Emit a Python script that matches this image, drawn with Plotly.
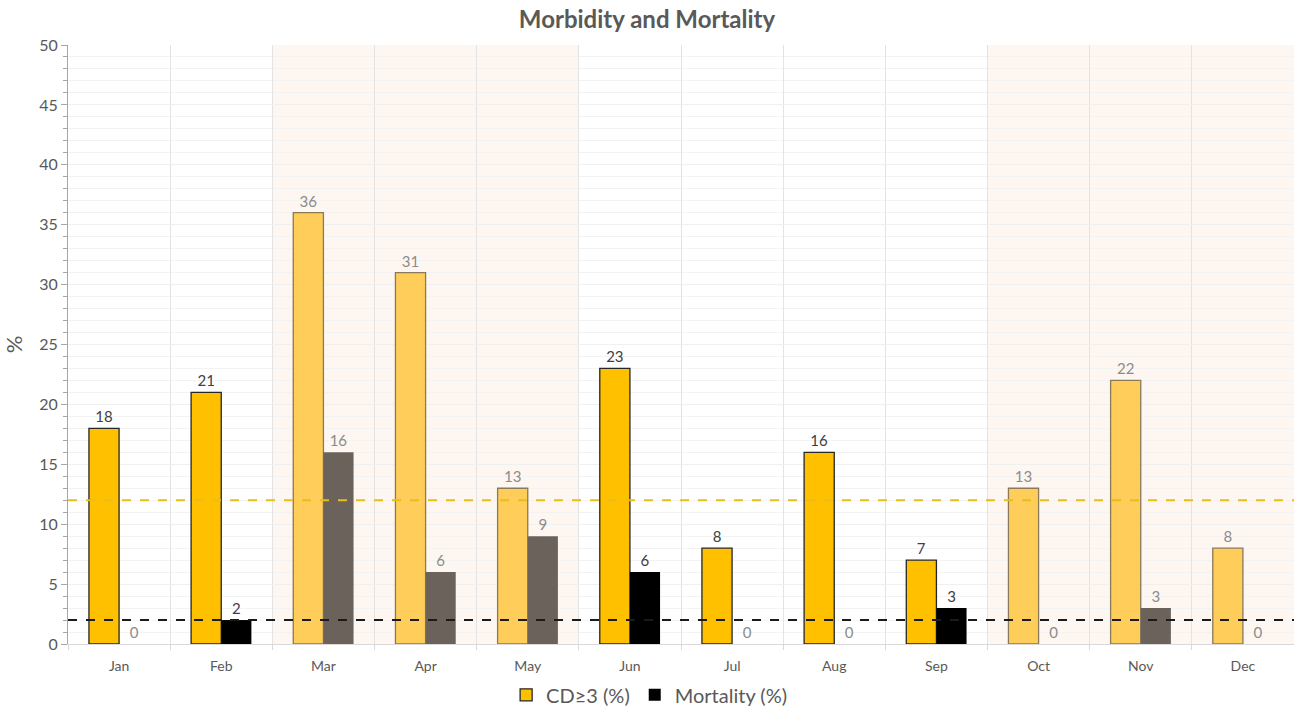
import plotly.graph_objects as go

months = ["Jan", "Feb", "Mar", "Apr", "May", "Jun", "Jul", "Aug", "Sep", "Oct", "Nov", "Dec"]
cd3 = [18, 21, 36, 31, 13, 23, 8, 16, 7, 13, 22, 8]
mortality = [0, 2, 16, 6, 9, 6, 0, 0, 3, 0, 3, 0]
highlighted = ["Mar", "Apr", "May", "Oct", "Nov", "Dec"]
cd3_threshold = 12
mortality_threshold = 2

FONT = "Lato"
hl = [m in highlighted for m in months]

cd3_fill = ["#ffcd5a" if h else "#ffc000" for h in hl]
cd3_line = ["#8a7a5a" if h else "#262626" for h in hl]
mort_fill = ["#6b625c" if h else "#000000" for h in hl]
cd3_text = ["#8c8c8c" if h else "#404040" for h in hl]
mort_text = ["#8c8c8c" if (h or v == 0) else "#404040" for h, v in zip(hl, mortality)]

fig = go.Figure()
fig.add_trace(go.Bar(
    x=months, y=cd3, name="CD≥3 (%)",
    marker=dict(color=cd3_fill, line=dict(color=cd3_line, width=1.3)),
    text=[str(v) for v in cd3], textposition="outside", cliponaxis=False,
    textfont=dict(color=cd3_text, size=15, family=FONT),
))
fig.add_trace(go.Bar(
    x=months, y=mortality, name="Mortality (%)",
    marker=dict(color=mort_fill, line=dict(width=0)),
    text=[str(v) for v in mortality], textposition="outside", cliponaxis=False,
    textfont=dict(color=mort_text, size=15, family=FONT),
))

# shaded month blocks
shapes = []
i = 0
while i < len(months):
    if hl[i]:
        j = i
        while j + 1 < len(months) and hl[j + 1]:
            j += 1
        shapes.append(dict(type="rect", xref="x", yref="paper",
                           x0=i - 0.5, x1=j + 0.5, y0=0, y1=1,
                           fillcolor="#fef6f0", line=dict(width=0), layer="below"))
        i = j + 1
    else:
        i += 1

# reference lines
shapes.append(dict(type="line", xref="paper", yref="y", x0=0, x1=1,
                   y0=cd3_threshold, y1=cd3_threshold,
                   line=dict(color="#e8bd1c", width=2, dash="dash")))
shapes.append(dict(type="line", xref="paper", yref="y", x0=0, x1=1,
                   y0=mortality_threshold, y1=mortality_threshold,
                   line=dict(color="#1a1a1a", width=2, dash="dash")))

fig.update_layout(
    width=1294, height=709,
    margin=dict(l=68, r=0, t=45, b=65, autoexpand=False),
    paper_bgcolor="white", plot_bgcolor="rgba(0,0,0,0)",
    barmode="group", bargap=0.41, bargroupgap=0,
    shapes=shapes,
    title=dict(text="<b>Morbidity and Mortality</b>", x=0.5, xanchor="center",
               y=0.972, yanchor="middle",
               font=dict(family=FONT, size=24, color="#595959")),
    font=dict(family=FONT, color="#595959"),
    legend=dict(orientation="h", x=0.474, xanchor="center",
                yref="container", y=0.02, yanchor="middle",
                font=dict(size=20, color="#595959", family=FONT),
                itemwidth=30, traceorder="normal"),
    xaxis=dict(type="category", tickson="boundaries", showgrid=True,
               gridcolor="#e3e3e3", gridwidth=1,
               ticks="outside", ticklen=5, tickcolor="#d9d9d9",
               ticklabelstandoff=9,
               showline=True, linecolor="#d9d9d9",
               tickfont=dict(size=14, color="#595959", family=FONT)),
    yaxis=dict(range=[0, 50], dtick=5, showgrid=True, gridcolor="#f0f0f0",
               ticks="outside", ticklen=6, tickcolor="#a6a6a6",
               showline=True, linecolor="#a6a6a6", zeroline=False,
               minor=dict(dtick=1, showgrid=True, gridcolor="#f3f3f3",
                          ticks="outside", ticklen=4, tickcolor="#a6a6a6"),
               tickfont=dict(size=16, color="#595959", family=FONT),
               title=dict(text="%", font=dict(size=22, color="#595959", family=FONT),
                          standoff=16)),
)

fig.write_html("out.html")
